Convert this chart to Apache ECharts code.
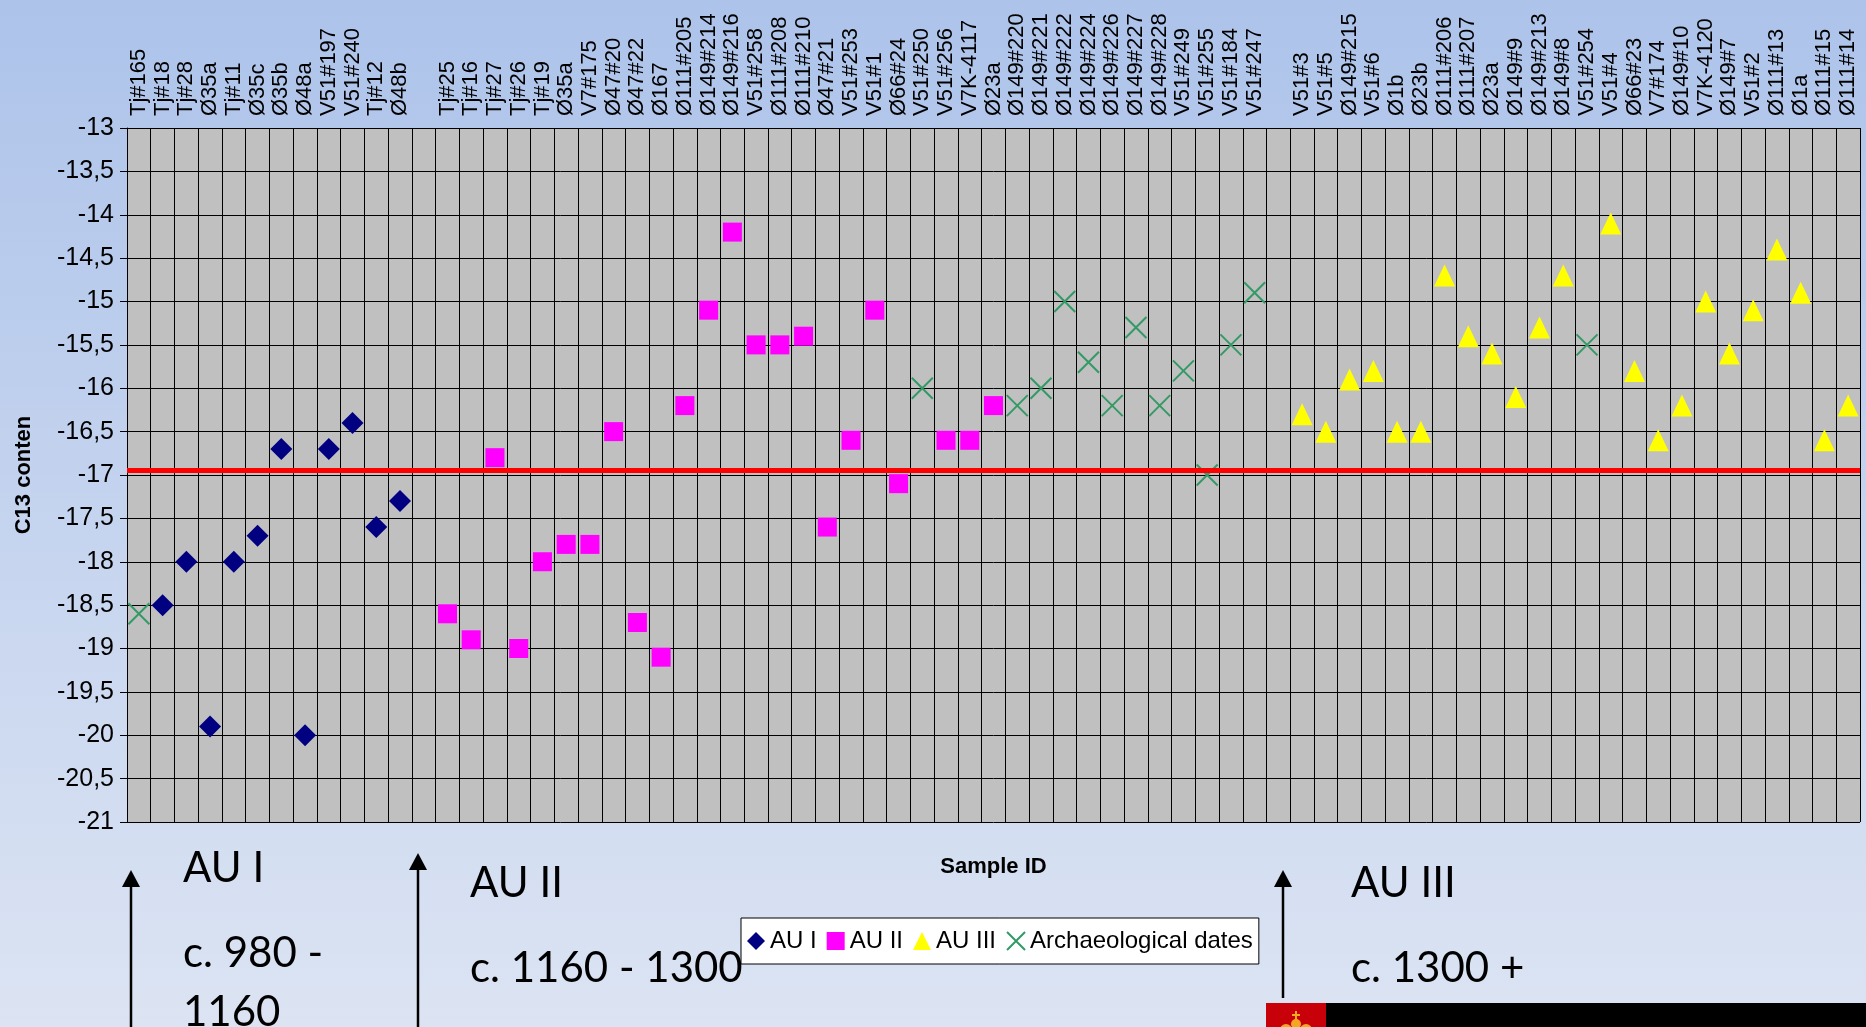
<!DOCTYPE html>
<html>
<head>
<meta charset="utf-8">
<title>C13 content by sample</title>
<script src="https://cdn.jsdelivr.net/npm/echarts@6/dist/echarts.min.js"></script>
<style>
  html, body { margin: 0; padding: 0; }
  #chart { width: 1866px; height: 1027px; }
</style>
</head>
<body>
<div id="chart"></div>
<script>
// sample IDs along the x axis ('' = empty column)
const sampleIds = [
  'Tj#165', 'Tj#18', 'Tj#28', 'Ø35a', 'Tj#11', 'Ø35c', 'Ø35b', 'Ø48a', 'V51#197', 'V51#240', 'Tj#12', 'Ø48b',
  '',
  'Tj#25', 'Tj#16', 'Tj#27', 'Tj#26', 'Tj#19', 'Ø35a', 'V7#175', 'Ø47#20', 'Ø47#22', 'Ø167', 'Ø111#205',
  'Ø149#214', 'Ø149#216', 'V51#258', 'Ø111#208', 'Ø111#210', 'Ø47#21', 'V51#253', 'V51#1', 'Ø66#24',
  'V51#250', 'V51#256', 'V7K-4117', 'Ø23a', 'Ø149#220', 'Ø149#221', 'Ø149#222', 'Ø149#224', 'Ø149#226',
  'Ø149#227', 'Ø149#228', 'V51#249', 'V51#255', 'V51#184', 'V51#247',
  '',
  'V51#3', 'V51#5', 'Ø149#215', 'V51#6', 'Ø1b', 'Ø23b', 'Ø111#206', 'Ø111#207', 'Ø23a', 'Ø149#9',
  'Ø149#213', 'Ø149#8', 'V51#254', 'V51#4', 'Ø66#23', 'V7#174', 'Ø149#10', 'V7K-4120', 'Ø149#7',
  'V51#2', 'Ø111#13', 'Ø1a', 'Ø111#15', 'Ø111#14'
]

// C13 value per sample (null = no sample)
const c13Values = [
  -18.6, -18.5, -18.0, -19.9, -18.0, -17.7, -16.7, -20.0, -16.7, -16.4, -17.6, -17.3,
  null,
  -18.6, -18.9, -16.8, -19.0, -18.0, -17.8, -17.8, -16.5, -18.7, -19.1, -16.2,
  -15.1, -14.2, -15.5, -15.5, -15.4, -17.6, -16.6, -15.1, -17.1,
  -16.0, -16.6, -16.6, -16.2, -16.2, -16.0, -15.0, -15.7, -16.2,
  -15.3, -16.2, -15.8, -17.0, -15.5, -14.9,
  null,
  -16.3, -16.5, -15.9, -15.8, -16.5, -16.5, -14.7, -15.4, -15.6, -16.1,
  -15.3, -14.7, -15.5, -14.1, -15.8, -16.6, -16.2, -15.0, -15.6,
  -15.1, -14.4, -14.9, -16.6, -16.2
]

// group of each sample: I / II / III = AU phase, A = archaeological date
const sampleGroup = [
  'A', 'I', 'I', 'I', 'I', 'I', 'I', 'I', 'I', 'I', 'I', 'I',
  '',
  'II', 'II', 'II', 'II', 'II', 'II', 'II', 'II', 'II', 'II', 'II',
  'II', 'II', 'II', 'II', 'II', 'II', 'II', 'II', 'II',
  'A', 'II', 'II', 'II', 'A', 'A', 'A', 'A', 'A',
  'A', 'A', 'A', 'A', 'A', 'A',
  '',
  'III', 'III', 'III', 'III', 'III', 'III', 'III', 'III', 'III', 'III',
  'III', 'III', 'A', 'III', 'III', 'III', 'III', 'III', 'III',
  'III', 'III', 'III', 'III', 'III'
]

const seriesNames = ['AU I', 'AU II', 'AU III', 'Archaeological dates']
const groupKeys = ['I', 'II', 'III', 'A']
const referenceLine = -16.95

const yTicks = { min: -21, max: -13, step: 0.5 }

const crossPath = 'path://M0,0L20,20M20,0L0,20'
const fontFamily = '"Liberation Sans", Arial, sans-serif'
const noteFont = 'Lato, "Noto Sans", sans-serif'

function valuesFor(key) {
  return c13Values.map((v, i) => (sampleGroup[i] === key && v !== null ? v : '-'))
}

const symbolStyles = [
  { symbol: 'diamond', symbolSize: 22, itemStyle: { color: '#000080', opacity: 1 } },
  { symbol: 'rect', symbolSize: 19, itemStyle: { color: '#ff00ff', opacity: 1 } },
  { symbol: 'triangle', symbolSize: [21, 22], itemStyle: { color: '#ffff00', opacity: 1 } },
  { symbol: crossPath, symbolSize: 21, itemStyle: { color: 'rgba(0,0,0,0)', borderColor: '#339966', borderWidth: 2, opacity: 1 } }
]

const myChart = echarts.init(document.getElementById('chart'))

function note(text, x, y) {
  return {
    type: 'text', left: x, top: y,
    style: { text: text, font: '42px ' + noteFont, fill: '#000', verticalAlign: 'middle' }
  }
}

function arrow(x, top, bottom) {
  return [
    { type: 'line', shape: { x1: x, y1: top + 12, x2: x, y2: bottom }, style: { stroke: '#000', lineWidth: 2.5 } },
    { type: 'polygon', shape: { points: [[x, top], [x - 9, top + 17], [x + 9, top + 17]] }, style: { fill: '#000' } }
  ]
}

myChart.setOption({
  backgroundColor: new echarts.graphic.LinearGradient(0, 0, 0, 1, [
    { offset: 0, color: '#adc3ea' },
    { offset: 1, color: '#dce4f3' }
  ]),
  textStyle: { fontFamily: fontFamily },
  animation: false,
  grid: {
    left: 127,
    top: 128,
    right: 6,
    bottom: 205,
    show: true,
    backgroundColor: '#c0c0c0',
    borderWidth: 0
  },
  legend: {
    left: 741,
    top: 918,
    orient: 'horizontal',
    backgroundColor: '#fff',
    borderColor: '#000',
    borderWidth: 1,
    borderRadius: 0,
    padding: [11, 6],
    itemGap: 10,
    itemWidth: 18,
    itemHeight: 18,
    itemTextGap: 4,
    textStyle: { fontSize: 24, color: '#000', fontFamily: fontFamily },
    data: seriesNames.map((name, i) => ({
      name: name,
      icon: i === 3 ? crossPath : symbolStyles[i].symbol,
      itemStyle: symbolStyles[i].itemStyle
    }))
  },
  xAxis: {
    type: 'category',
    position: 'top',
    data: sampleIds,
    boundaryGap: true,
    name: 'Sample ID',
    nameLocation: 'middle',
    nameGap: -750,
    nameTextStyle: { fontSize: 22, fontWeight: 'bold', color: '#000' },
    axisLine: { show: true, lineStyle: { color: '#000', width: 1 } },
    axisTick: { show: false },
    axisLabel: {
      interval: 0,
      rotate: -90,
      fontSize: 22,
      color: '#000',
      margin: 12
    },
    splitLine: { show: true, interval: 0, lineStyle: { color: '#000', width: 1 } }
  },
  yAxis: {
    type: 'value',
    min: yTicks.min,
    max: yTicks.max,
    interval: yTicks.step,
    name: 'C13 conten',
    nameLocation: 'middle',
    nameGap: 92,
    nameTextStyle: { fontSize: 22, fontWeight: 'bold', color: '#000' },
    axisLine: { show: true, lineStyle: { color: '#000', width: 1 } },
    axisTick: { show: true, inside: false, length: 7, lineStyle: { color: '#000' } },
    axisLabel: {
      fontSize: 25,
      color: '#000',
      margin: 13,
      formatter: (v) => String(v).replace('.', ',')
    },
    splitLine: { show: true, lineStyle: { color: '#000', width: 1 } }
  },
  series: groupKeys.map((key, i) => ({
    name: seriesNames[i],
    type: 'scatter',
    symbol: symbolStyles[i].symbol,
    symbolSize: symbolStyles[i].symbolSize,
    itemStyle: symbolStyles[i].itemStyle,
    emphasis: { disabled: true },
    data: valuesFor(key),
    z: 3,
    markLine: i === 0 ? {
      silent: true,
      symbol: 'none',
      label: { show: false },
      lineStyle: { color: '#ff0000', width: 5, type: 'solid', opacity: 1 },
      data: [{ yAxis: referenceLine }]
    } : undefined
  })),
  graphic: [
    note('AU I', 183, 847),
    note('c. 980 -', 183, 932),
    note('1160', 183, 991),
    note('AU II', 470, 862),
    note('c. 1160 - 1300', 470, 947),
    note('AU III', 1351, 862),
    note('c. 1300 +', 1351, 947),
    ...arrow(131, 870, 1027),
    ...arrow(418, 853, 1027),
    ...arrow(1283, 870, 998),
    { type: 'rect', shape: { x: 1266, y: 1003, width: 600, height: 30 }, style: { fill: '#000' } },
    { type: 'rect', shape: { x: 1266, y: 1003, width: 60, height: 30 }, style: { fill: '#c8000a' } },
    { type: 'circle', shape: { cx: 1296, cy: 1024, r: 5 }, style: { fill: '#f5a623' } },
    { type: 'circle', shape: { cx: 1286, cy: 1030, r: 6 }, style: { fill: '#f5a623' } },
    { type: 'circle', shape: { cx: 1306, cy: 1030, r: 6 }, style: { fill: '#f5a623' } },
    { type: 'rect', shape: { x: 1295, y: 1011, width: 2, height: 9 }, style: { fill: '#f5a623' } },
    { type: 'rect', shape: { x: 1292, y: 1014, width: 8, height: 2 }, style: { fill: '#f5a623' } }
  ]
})
</script>
</body>
</html>
